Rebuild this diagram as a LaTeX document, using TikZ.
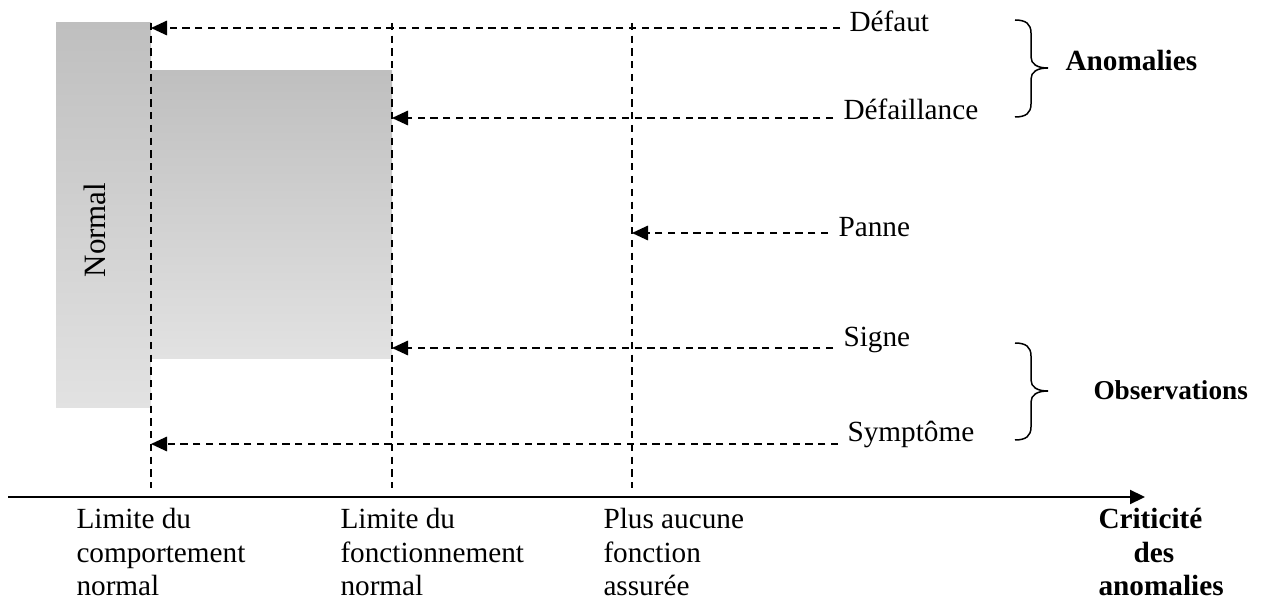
\documentclass[tikz,border=0pt]{standalone}
\usepackage{fontspec}
\setmainfont{Liberation Serif}
\usetikzlibrary{arrows.meta,calc}
\definecolor{shadetop}{RGB}{191,191,191}
\definecolor{shadebot}{RGB}{226,226,226}
\begin{document}
\begin{tikzpicture}[x=0.4pt,y=-0.4pt,
  lbl/.style={inner sep=0pt, anchor=base west, font=\fontsize{11.7}{13.4}\selectfont},
  grp/.style={inner sep=0pt, anchor=base west, font=\fontsize{11.7}{13.4}\selectfont\bfseries},
  multi/.style={inner sep=0pt, align=left, anchor=north west, font=\fontsize{11.7}{13.4}\selectfont},
  limit/.style={draw, line width=0.65pt, dash pattern=on 2.9pt off 2.2pt},
  darr/.style={limit, -{Triangle[length=6.4pt,width=5.8pt]}},
  axisline/.style={draw, line width=0.9pt, -{Triangle[length=6pt,width=5.6pt]}},
  bracestroke/.style={draw, line width=0.6pt},
  curly/.pic={
    \draw[bracestroke] (0,0) .. controls (11,0) and (16,4) .. (16,13)
      -- (16,37) .. controls (16,44) and (22,48) .. (33,48)
      .. controls (22,48) and (16,52) .. (16,59)
      -- (16,84) .. controls (16,93) and (11,97) .. (0,97);
  }]
\path[use as bounding box] (0,0) rectangle (1269,599);

% shaded zones
\shade[top color=shadetop, bottom color=shadebot] (56,23) rectangle (151,408);
\shade[top color=shadetop, bottom color=shadebot] (151,71) rectangle (392,359);
\node[rotate=90, anchor=base, inner sep=0pt, font=\fontsize{12.4}{14}\selectfont] (normal) at (105,230) {Normal};

% limits
\coordinate (v1t) at (151,23); \coordinate (v1b) at (151,488);
\coordinate (v2t) at (392,23); \coordinate (v2b) at (392,488);
\coordinate (v3t) at (632,23); \coordinate (v3b) at (632,488);
\draw[limit] (v1t) -- (v1b);
\draw[limit] (v2t) -- (v2b);
\draw[limit] (v3t) -- (v3b);

% labels on the right
\node[lbl] (defaut) at (849,32) {Défaut};
\node[lbl] (defaillance) at (843,120) {Défaillance};
\node[lbl] (panne) at (838,237) {Panne};
\node[lbl] (signe) at (843,347) {Signe};
\node[lbl] (symptome) at (847,442) {Symptôme};

\draw[darr] ($(defaut.base west)+(-9,-4)$) coordinate (s1) -- (s1 -| v1t);
\draw[darr] ($(defaillance.base west)+(-10,-2)$) coordinate (s2) -- (s2 -| v2t);
\draw[darr] ($(panne.base west)+(-10,-4)$) coordinate (s3) -- (s3 -| v3t);
\draw[darr] ($(signe.base west)+(-10,1)$) coordinate (s4) -- (s4 -| v2t);
\draw[darr] ($(symptome.base west)+(-9,2)$) coordinate (s5) -- (s5 -| v1t);

% groups
\pic at (1015,20) {curly};
\pic at (1015,343) {curly};
\node[grp] (anomalies) at (1065,71) {Anomalies};
\node[grp, font=\fontsize{10.9}{13}\selectfont\bfseries] (observations) at (1093,400) {Observations};

% axis
\coordinate (ax0) at (8,497);
\coordinate (ax1) at (1145,497);
\draw[axisline] (ax0) -- (ax1);

\node[multi] (lim1) at (76,508) {Limite du\\comportement\\normal};
\node[multi] (lim2) at (340,508) {Limite du\\fonctionnement\\normal};
\node[multi] (lim3) at (603,508) {Plus aucune\\fonction\\assurée};
\node[multi, font=\fontsize{11.7}{13.4}\selectfont\bfseries] (crit) at (1098,508) {Criticité\\\hspace*{14pt}des\\anomalies};
\end{tikzpicture}
\end{document}
